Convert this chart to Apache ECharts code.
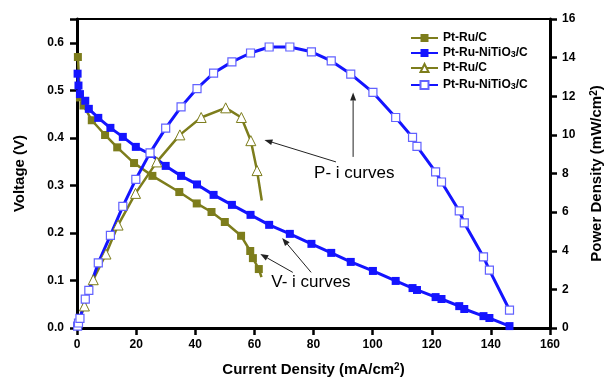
<!DOCTYPE html>
<html><head><meta charset="utf-8">
<script src="https://cdn.jsdelivr.net/npm/echarts@6/dist/echarts.min.js"></script>
<style>html,body{margin:0;padding:0;background:#fff}#c{width:612px;height:382px}</style>
</head><body><div id="c"></div>
<script>
// ---- data ----
const xTickValues = [0, 20, 40, 60, 80, 100, 120, 140, 160];
const currentNi = [0.2, 0.5, 1.0, 2.8, 4.0, 7.2, 11.3, 15.5, 19.9, 24.7, 30, 35.2, 40.6, 46.2, 52.4, 58.7, 65, 72, 79.3, 86, 92.6, 100.1, 107.8, 113.5, 115, 121.3, 123.3, 129.3, 131, 137.5, 139.5, 146.3];
const voltageNi = [0.535, 0.51, 0.492, 0.478, 0.461, 0.442, 0.421, 0.402, 0.381, 0.366, 0.341, 0.32, 0.302, 0.28, 0.259, 0.238, 0.217, 0.198, 0.177, 0.158, 0.139, 0.12, 0.099, 0.084, 0.08, 0.065, 0.061, 0.046, 0.04, 0.025, 0.021, 0.004];
const powerNi = [0.1, 0.26, 0.5, 1.5, 1.95, 3.37, 4.8, 6.3, 7.7, 9.07, 10.35, 11.45, 12.4, 13.2, 13.78, 14.24, 14.55, 14.55, 14.3, 13.83, 13.15, 12.2, 10.9, 9.87, 9.4, 8.08, 7.56, 6.06, 5.44, 3.68, 3.0, 0.93];
const currentRuV = [0.3, 1.0, 2.2, 5.0, 9.5, 13.6, 19.3, 25.5, 34.6, 40.5, 45.5, 50, 55.5, 58.6, 59.5, 61.5, 62.4];
const voltageRu = [0.57, 0.485, 0.468, 0.437, 0.406, 0.38, 0.347, 0.32, 0.286, 0.262, 0.244, 0.223, 0.194, 0.162, 0.147, 0.124, 0.107];
const currentRuP = [0.8, 2.5, 5.5, 9.8, 13.9, 19.8, 27, 34.8, 42, 50.3, 55.6, 58.8, 60.9, 62.5];
const powerRu = [0.4, 1.14, 2.5, 3.83, 5.33, 6.97, 8.6, 10.0, 10.9, 11.4, 10.9, 9.7, 8.15, 6.6];
const legendNames = ['VRu', 'VNi', 'PRu', 'PNi'];
const legendLabels = ['Pt-Ru/C', 'Pt-Ru-NiTiO3/C', 'Pt-Ru/C', 'Pt-Ru-NiTiO3/C'];
// annotations in (current, power) data space
const pText = [80.2, 8.03], vText = [65.7, 2.38];
const arrowsData = [
  [[87.6, 8.6], [63.4, 9.74]],
  [[93.4, 8.86], [93.4, 12.2]],
  [[73.0, 2.88], [62.0, 3.83]],
  [[79.2, 2.88], [69.4, 4.66]]
];

const OLIVE = '#7d7d1c', BLUE = '#1414ff', OPEN_BLUE = '#6262ff';
const zip = (a, b) => a.map((v, i) => [v, b[i]]);
const hideEnds = (arr, first, last) => arr.map((p, i) =>
  ((first && i === 0) || (last && i === arr.length - 1)) ? { value: p, symbol: 'none' } : p);

const chart = echarts.init(document.getElementById('c'));
const bold = { fontFamily: 'Liberation Sans, Arial', fontWeight: 'bold', color: '#000' };
const legendText = {
  fontFamily: 'Liberation Sans, Arial', fontWeight: 'bold', fontSize: 12, color: '#000',
  rich: {
    a: { fontFamily: 'Liberation Sans, Arial', fontWeight: 'bold', fontSize: 12, color: '#000', lineHeight: 13 },
    s: { fontFamily: 'Liberation Sans, Arial', fontWeight: 'bold', fontSize: 9, color: '#000', lineHeight: 7, verticalAlign: 'bottom' }
  }
};
const fmt = name => '{a|' + legendLabels[legendNames.indexOf(name)].replace('O3', 'O}{s|3}{a|') + '}';

chart.setOption({
  animation: false,
  backgroundColor: '#fff',
  grid: { left: 77, right: 60, top: 19, bottom: 54, show: true, borderColor: '#000', borderWidth: 2, backgroundColor: 'transparent' },
  legend: [
    { data: ['VRu', 'VNi'], orient: 'vertical', left: 405, top: 27, itemWidth: 27, itemHeight: 10, itemGap: 3, formatter: fmt, textStyle: legendText, selectedMode: false },
    { data: ['PRu', 'PNi'], orient: 'vertical', left: 405, top: 57, itemWidth: 27, itemHeight: 10, itemGap: 5, formatter: fmt, textStyle: legendText, selectedMode: false }
  ],
  xAxis: {
    type: 'value', min: xTickValues[0], max: xTickValues[xTickValues.length - 1], interval: 20,
    name: 'Current Density (mA/cm{sup|2})', nameLocation: 'middle', nameGap: 34,
    nameTextStyle: Object.assign({}, bold, { fontSize: 15, rich: { sup: Object.assign({}, bold, { fontSize: 10, verticalAlign: 'top', lineHeight: 8 }) } }),
    axisLine: { lineStyle: { color: '#000', width: 3 } },
    axisTick: { inside: false, length: 7, lineStyle: { color: '#000', width: 2.5 } },
    axisLabel: Object.assign({}, bold, { fontSize: 12, margin: 11 }),
    splitLine: { show: false }
  },
  yAxis: [
    {
      type: 'value', position: 'left', min: 0, max: 0.65, interval: 0.1,
      name: 'Voltage (V)', nameLocation: 'middle', nameGap: 50, nameRotate: 90,
      nameTextStyle: Object.assign({}, bold, { fontSize: 15 }),
      axisLine: { show: true, lineStyle: { color: '#000', width: 3 } },
      axisTick: { show: true, length: 7, lineStyle: { color: '#000', width: 2.5 } },
      axisLabel: Object.assign({}, bold, { fontSize: 12, margin: 13,
        formatter: v => Math.abs(v * 10 - Math.round(v * 10)) < 1e-6 ? v.toFixed(1) : '' }),
      splitLine: { show: false }
    },
    {
      type: 'value', position: 'right', min: 0, max: 16, interval: 2,
      name: 'Power Density (mW/cm{sup|2})', nameLocation: 'middle', nameGap: 39, nameRotate: 90,
      nameTextStyle: Object.assign({}, bold, { fontSize: 15, rich: { sup: Object.assign({}, bold, { fontSize: 10, verticalAlign: 'top', lineHeight: 8 }) } }),
      axisLine: { show: true, lineStyle: { color: '#000', width: 3 } },
      axisTick: { show: true, length: 7, lineStyle: { color: '#000', width: 2.5 } },
      axisLabel: Object.assign({}, bold, { fontSize: 12, margin: 12 }),
      splitLine: { show: false }
    }
  ],
  series: [
    { name: 'VRu', type: 'line', yAxisIndex: 0, data: hideEnds(zip(currentRuV, voltageRu), false, true),
      symbol: 'rect', symbolSize: 8, lineStyle: { color: OLIVE, width: 2.5 }, itemStyle: { color: OLIVE }, z: 3 },
    { name: 'VNi', type: 'line', yAxisIndex: 0, data: zip(currentNi, voltageNi),
      symbol: 'rect', symbolSize: 8, lineStyle: { color: BLUE, width: 3 }, itemStyle: { color: BLUE }, z: 3 },
    { name: 'PRu', type: 'line', yAxisIndex: 1, data: hideEnds(zip(currentRuP, powerRu), true, true),
      symbol: 'triangle', symbolSize: 10, showAllSymbol: true, lineStyle: { color: OLIVE, width: 2.5 },
      itemStyle: { color: '#fff', borderColor: OLIVE, borderWidth: 1 }, z: 4 },
    { name: 'PNi', type: 'line', yAxisIndex: 1, data: zip(currentNi, powerNi),
      symbol: 'rect', symbolSize: 8, lineStyle: { color: BLUE, width: 3 },
      itemStyle: { color: '#fff', borderColor: OPEN_BLUE, borderWidth: 1.2 }, z: 4 }
  ]
});

// annotations
const px = p => chart.convertToPixel({ xAxisIndex: 0, yAxisIndex: 1 }, p);
const g = [];
const tp = px(pText), tv = px(vText);
g.push({ type: 'text', x: tp[0], y: tp[1], style: { text: 'P- i curves', fill: '#000', font: '17px Liberation Sans, Arial', verticalAlign: 'middle' }, z: 10 });
g.push({ type: 'text', x: tv[0], y: tv[1], style: { text: 'V- i curves', fill: '#000', font: '17px Liberation Sans, Arial', verticalAlign: 'middle' }, z: 10 });
arrowsData.forEach(([a, b]) => {
  const p1 = px(a), p2 = px(b);
  const dx = p2[0] - p1[0], dy = p2[1] - p1[1], L = Math.hypot(dx, dy);
  const ux = dx / L, uy = dy / L, hl = 8, hw = 3;
  const bx = p2[0] - ux * hl, by = p2[1] - uy * hl;
  g.push({ type: 'line', shape: { x1: p1[0], y1: p1[1], x2: bx, y2: by }, style: { stroke: '#222', lineWidth: 1 }, z: 10 });
  g.push({ type: 'polygon', shape: { points: [[p2[0], p2[1]], [bx - uy * hw, by + ux * hw], [bx + uy * hw, by - ux * hw]] }, style: { fill: '#222' }, z: 10 });
});
chart.setOption({ graphic: g });
</script></body></html>
